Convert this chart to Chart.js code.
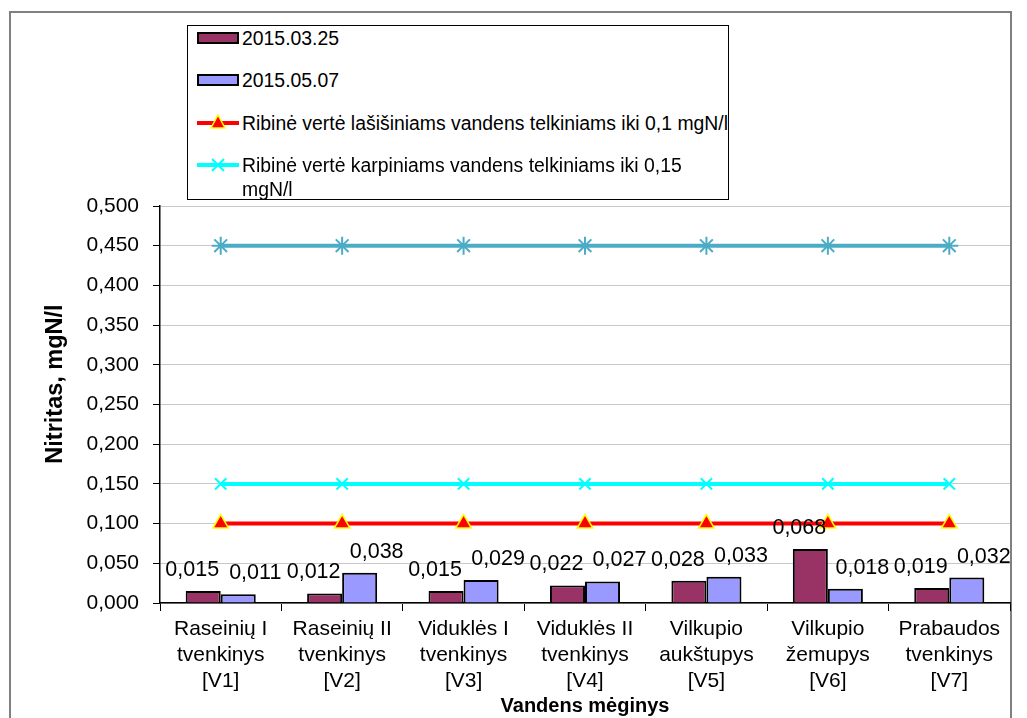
<!DOCTYPE html>
<html>
<head>
<meta charset="utf-8">
<script src="https://cdn.jsdelivr.net/npm/chart.js@4/dist/chart.umd.min.js"></script>
<style>
  html, body { margin: 0; padding: 0; background: #fff; }
  #wrap { position: relative; width: 1027px; height: 718px; overflow: hidden; }
  #legendBox {
    position: absolute; left: 187px; top: 25px; width: 542px; height: 175px;
    border: 1px solid #000; background: #fff; box-sizing: border-box;
    font-family: "Liberation Sans", Arial, sans-serif; font-size: 19.4px; color: #000;
  }
  .row { position: absolute; left: 9px; height: 22px; }
  .row .txt { position: absolute; left: 45px; top: 0; line-height: 24px; white-space: nowrap; }
  .row svg { position: absolute; left: 0; top: 1px; }
</style>
</head>
<body>
<div id="wrap">
  <canvas id="myChart" width="1027" height="718"></canvas>
  <div id="legendBox">
    <div class="row" style="top:0px">
      <svg width="44" height="22"><rect x="1" y="6" width="40" height="10" fill="#993366" stroke="#000" stroke-width="2"/></svg>
      <div class="txt">2015.03.25</div>
    </div>
    <div class="row" style="top:42px">
      <svg width="44" height="22"><rect x="1" y="6" width="40" height="10" fill="#9999FF" stroke="#000" stroke-width="2"/></svg>
      <div class="txt">2015.05.07</div>
    </div>
    <div class="row" style="top:85px">
      <svg width="44" height="22"><line x1="0" y1="11" x2="42" y2="11" stroke="#FF0000" stroke-width="4"/><polygon points="21,3 28,16 14,16" fill="#FF0000" stroke="#FFFF00" stroke-width="1.5"/></svg>
      <div class="txt">Ribinė vertė lašišiniams vandens telkiniams iki 0,1 mgN/l</div>
    </div>
    <div class="row" style="top:127px">
      <svg width="44" height="22"><line x1="0" y1="11" x2="42" y2="11" stroke="#00FFFF" stroke-width="4"/><line x1="15" y1="5" x2="27" y2="17" stroke="#00FFFF" stroke-width="2"/><line x1="27" y1="5" x2="15" y2="17" stroke="#00FFFF" stroke-width="2"/></svg>
      <div class="txt">Ribinė vertė karpiniams vandens telkiniams iki 0,15<br>mgN/l</div>
    </div>
  </div>
</div>
<script>
const categories = [
    ["Raseinių I", "tvenkinys", "[V1]"],
    ["Raseinių II", "tvenkinys", "[V2]"],
    ["Viduklės I", "tvenkinys", "[V3]"],
    ["Viduklės II", "tvenkinys", "[V4]"],
    ["Vilkupio", "aukštupys", "[V5]"],
    ["Vilkupio", "žemupys", "[V6]"],
    ["Prabaudos", "tvenkinys", "[V7]"]
];
const march25 = [0.015, 0.012, 0.015, 0.022, 0.028, 0.068, 0.019];
const may07 = [0.011, 0.038, 0.029, 0.027, 0.033, 0.018, 0.032];
const limitSalmon = [0.1, 0.1, 0.1, 0.1, 0.1, 0.1, 0.1];
const limitCarp = [0.15, 0.15, 0.15, 0.15, 0.15, 0.15, 0.15];
const limitTop = [0.45, 0.45, 0.45, 0.45, 0.45, 0.45, 0.45];

function fmt(v){
    return v.toFixed(3).replace('.', ',');
}

// outer grey frame
const frame = {
    id: 'frame',
    beforeDraw(chart){
        const ctx = chart.ctx;
        ctx.save();
        ctx.strokeStyle = '#808080';
        ctx.lineWidth = 2;
        ctx.strokeRect(10, 12, 1001, 720);
        ctx.restore();
    }
};

// value labels above the bars + y title
const barLabels = {
    id: 'barLabels',
    afterDraw(chart){
        const ctx = chart.ctx;
        ctx.save();
        ctx.font = '21.5px "Liberation Sans", Arial, sans-serif';
        ctx.fillStyle = '#000';
        ctx.textAlign = 'center';
        ctx.textBaseline = 'middle';
        [0, 1].forEach((di) => {
            const meta = chart.getDatasetMeta(di);
            const values = chart.data.datasets[di].data;
            meta.data.forEach((bar, i) => {
                const dx = di == 0 ? -11 : 17;
                ctx.fillText(fmt(values[i]), bar.x + dx, bar.y - 21);
            });
        });

        ctx.translate(56, 384);
        ctx.rotate(-Math.PI / 2);
        ctx.font = 'bold 23.5px "Liberation Sans", Arial, sans-serif';
        ctx.fillText('Nitritas, mgN/l', 0, 0);
        ctx.restore();
    }
};

const data = {
    labels: categories,
    datasets: [
        {
            type: 'bar',
            label: '2015.03.25',
            data: march25,
            backgroundColor: '#993366',
            borderColor: '#000',
            borderWidth: 2,
            order: 2,
        },
        {
            type: 'bar',
            label: '2015.05.07',
            data: may07,
            backgroundColor: '#9999FF',
            borderColor: '#000',
            borderWidth: 2,
            order: 2,
        },
        {
            type: 'line',
            label: 'Ribinė vertė lašišiniams vandens telkiniams iki 0,1 mgN/l',
            data: limitSalmon,
            borderColor: '#FF0000',
            borderWidth: 4,
            pointStyle: 'triangle',
            pointRadius: 9,
            pointBackgroundColor: '#FF0000',
            pointBorderColor: '#FFFF00',
            pointBorderWidth: 1.5,
            order: 1,
        },
        {
            type: 'line',
            label: 'Ribinė vertė karpiniams vandens telkiniams iki 0,15 mgN/l',
            data: limitCarp,
            borderColor: '#00FFFF',
            borderWidth: 4,
            pointStyle: 'crossRot',
            pointRadius: 8,
            pointBorderColor: '#00FFFF',
            pointBorderWidth: 2,
            order: 1,
        },
        {
            type: 'line',
            label: '',
            data: limitTop,
            borderColor: '#4BACC6',
            borderWidth: 4,
            pointStyle: 'star',
            pointRadius: 9,
            pointBorderColor: '#4BACC6',
            pointBorderWidth: 2,
            order: 1,
        }
    ]
};

const config = {
    type: 'bar',
    data: data,
    options: {
        responsive: false,
        animation: false,
        layout: { padding: { left: 0, top: 206, right: 17, bottom: 0 } },
        datasets: {
            bar: { categoryPercentage: 0.577, barPercentage: 1.0 }
        },
        plugins: {
            legend: { display: false },
            tooltip: { enabled: false },
        },
        scales: {
            x: {
                afterFit(scale){ scale.height = 115; },
                grid: {
                    drawOnChartArea: false,
                    offset: true,
                    tickColor: '#000',
                    tickLength: 8,
                },
                border: { color: '#000', width: 1.5 },
                ticks: {
                    color: '#000',
                    maxRotation: 0,
                    autoSkip: false,
                    padding: 5,
                    font: { family: '"Liberation Sans", Arial, sans-serif', size: 21, lineHeight: 1.25 },
                },
                title: {
                    display: true,
                    text: 'Vandens mėginys',
                    color: '#000',
                    padding: { top: 0, bottom: 0 },
                    font: { family: '"Liberation Sans", Arial, sans-serif', size: 20, weight: 'bold', lineHeight: 1.2 },
                },
            },
            y: {
                min: 0,
                max: 0.5,
                afterFit(scale){ scale.width = 160; },
                grid: {
                    color: '#c8c8c8',
                    tickColor: '#000',
                    tickLength: 7,
                },
                border: { color: '#000', width: 1.5 },
                ticks: {
                    stepSize: 0.05,
                    color: '#000',
                    padding: 14,
                    font: { family: '"Liberation Sans", Arial, sans-serif', size: 21 },
                    callback: function(value){ return fmt(value); },
                },
            },
        },
    },
    plugins: [frame, barLabels],
};

const chart = new Chart(document.getElementById('myChart'), config);
</script>
</body>
</html>
